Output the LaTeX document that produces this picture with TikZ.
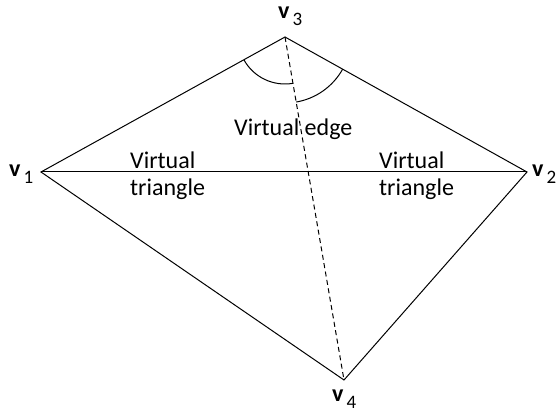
\documentclass[tikz,border=0pt]{standalone}
\usepackage{fontspec}
\setmainfont{Carlito}
\begin{document}
\begin{tikzpicture}[x=1pt,y=-1pt,
  edge/.style={line width=1pt},
  vedge/.style={line width=1pt, dash pattern=on 5pt off 3.5pt},
  lbl/.style={anchor=base west, inner sep=0pt, font=\fontsize{24}{24}\selectfont},
  vlbl/.style={inner sep=0pt, anchor=base west}]
\useasboundingbox (0,0) rectangle (558,412);
\newcommand{\vname}[1]{{\fontsize{24}{24}\selectfont\bfseries v}\hspace{3pt}\raisebox{-7pt}{\fontsize{19}{19}\selectfont #1}}
\coordinate (v1) at (41,172);
\coordinate (v2) at (527,172);
\coordinate (v3) at (285,37);
\coordinate (v4) at (344,380);
\draw[edge, line join=miter] (v1) -- (v3) -- (v2) -- (v4) -- cycle;
\draw[edge] (v1) -- (v2);
\draw[vedge] (v3) -- (v4);
\draw[edge] ([shift={(151:47)}]v3) arc[start angle=151, end angle=80.2, radius=47];
\draw[edge] ([shift={(80.2:66)}]v3) arc[start angle=80.2, end angle=29.2, radius=66];
\node[vlbl] (l3) at (278,19) {\vname{3}};
\node[vlbl] (l1) at (9,177) {\vname{1}};
\node[vlbl] (l2) at (532,177) {\vname{2}};
\node[vlbl] (l4) at (332,401) {\vname{4}};
\node[lbl] (t1) at (130,168) {Virtual};
\node[lbl] (t2) at (130,196) {triangle};
\node[lbl] (t3) at (379,168) {Virtual};
\node[lbl] (t4) at (379,196) {triangle};
\node[lbl] (t5) at (234,136) {Virtual edge};
\end{tikzpicture}
\end{document}
